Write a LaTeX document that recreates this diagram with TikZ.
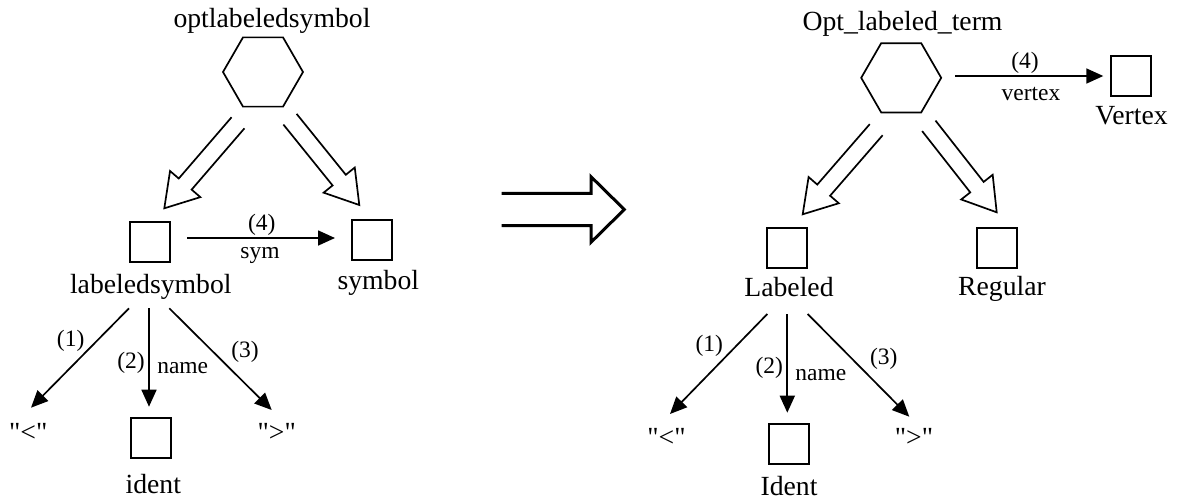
\documentclass[tikz,border=0pt]{standalone}
\usepackage{fontspec}
\setmainfont{Liberation Serif}
\newfontfamily\rawserif{Liberation Serif}
\usetikzlibrary{shapes.geometric,arrows.meta,calc}
\tikzset{
  lw/.style={line width=1.7pt},
  hexa/.style={draw,lw,regular polygon,regular polygon sides=6,minimum size=80pt,inner sep=0pt},
  sqbox/.style={draw,lw,minimum size=40pt,inner sep=0pt},
  bigtxt/.style={font=\fontsize{27.7}{30}\selectfont,inner sep=0pt,anchor=base},
  quotetxt/.style={font=\rawserif\fontsize{27.7}{30}\selectfont,inner sep=0pt,anchor=base},
  smalltxt/.style={font=\fontsize{23.5}{26}\selectfont,inner sep=0pt},
  conn/.style={lw,-{Triangle[length=17pt,width=15pt]}},
  hollow/.style={lw,line join=miter},
  bigarrow/.style={line width=3pt,line join=miter},
}
\newcommand{\hollowarrow}[2]{%
  \coordinate (hN) at ($(#2)!32pt!(#1)$);
  \draw[hollow] ($(#1)!8.5pt!90:(#2)$) -- ($(hN)!8.5pt!90:(#2)$) -- ($(hN)!20pt!90:(#2)$) -- (#2) -- ($(hN)!20pt!-90:(#2)$) -- ($(hN)!8.5pt!-90:(#2)$) -- ($(#1)!8.5pt!-90:(#2)$);
}
\begin{document}
\begin{tikzpicture}[x=1pt,y=-1pt]
\useasboundingbox (0,0) rectangle (1178,499);

% ---------- left tree ----------
\node[bigtxt] (tOpt) at (272,27) {optlabeledsymbol};
\node[hexa] (hexL) at (263,72) {};
\node[sqbox] (bLS) at (149.7,241.7) {};
\node[bigtxt] (tLS) at (150.8,293.3) {labeledsymbol};
\node[sqbox] (bSym) at (371.7,240) {};
\node[bigtxt] (tSym) at (378.3,289.3) {symbol};
\node[sqbox] (bId) at (151.2,438) {};
\node[bigtxt] (tId) at (153.3,493.3) {ident};
\node[quotetxt] (tLt) at (28.3,441.5) {"<"};
\node[quotetxt] (tGt) at (276.7,441.5) {">"};

\coordinate (hL1s) at (238,122.8);  \coordinate (hL1e) at (164.3,208.3);
\coordinate (hL2s) at (290,119.2);  \coordinate (hL2e) at (359.3,205);
\hollowarrow{hL1s}{hL1e}
\hollowarrow{hL2s}{hL2e}

\coordinate (sS) at (187.3,238); \coordinate (sE) at (335,238);
\draw[conn] (sS) -- (sE);
\node[smalltxt] (l4L) at (261.7,225) {(4)};
\node[smalltxt,anchor=base] (lsym) at (260,258) {sym};

\coordinate (a1s) at (129,308.3);   \coordinate (a1e) at (31,407.7);
\coordinate (a2s) at (149,308.3);   \coordinate (a2e) at (149,406.7);
\coordinate (a3s) at (169.3,308.3); \coordinate (a3e) at (271.7,410);
\draw[conn] (a1s) -- (a1e);
\draw[conn] (a2s) -- (a2e);
\draw[conn] (a3s) -- (a3e);
\node[smalltxt] (l1L) at (70.7,340.8) {(1)};
\node[smalltxt] (l2L) at (131,362.5) {(2)};
\node[smalltxt,anchor=base] (lnL) at (182.7,373.3) {name};
\node[smalltxt] (l3L) at (245,352) {(3)};

% ---------- big arrow ----------
\draw[bigarrow] (501.7,193.3) -- (591,193.3) -- (591,176.7) -- (624.3,209.5)
  -- (591,242.3) -- (591,225.7) -- (501.7,225.7);

% ---------- right tree ----------
\node[bigtxt] (tOLT) at (902.5,30) {Opt\_labeled\_term};
\node[hexa] (hexR) at (901.2,77.8) {};
\node[sqbox] (bLab) at (787.2,248) {};
\node[bigtxt] (tLab) at (789,296) {Labeled};
\node[sqbox] (bReg) at (996.7,248) {};
\node[bigtxt] (tReg) at (1002,295) {Regular};
\node[sqbox] (bVer) at (1131.2,76) {};
\node[bigtxt] (tVer) at (1131.5,124) {Vertex};
\node[sqbox] (bIdR) at (789.2,443.7) {};
\node[bigtxt] (tIdR) at (789,495) {Ident};
\node[quotetxt] (tLtR) at (666.5,446.5) {"<"};
\node[quotetxt] (tGtR) at (914,446.5) {">"};

\coordinate (hR1s) at (876.2,129.7); \coordinate (hR1e) at (802.7,214.3);
\coordinate (hR2s) at (928.8,125.8); \coordinate (hR2e) at (996.7,212.3);
\hollowarrow{hR1s}{hR1e}
\hollowarrow{hR2s}{hR2e}

\coordinate (vS) at (955,76); \coordinate (vE) at (1103.3,76);
\draw[conn] (vS) -- (vE);
\node[smalltxt] (l4R) at (1025,62.5) {(4)};
\node[smalltxt,anchor=base] (lver) at (1031,100) {vertex};

\coordinate (b1s) at (767.3,314);   \coordinate (b1e) at (670,414);
\coordinate (b2s) at (787.3,314);   \coordinate (b2e) at (787.3,412.7);
\coordinate (b3s) at (807.7,314);   \coordinate (b3e) at (909.3,416.7);
\draw[conn] (b1s) -- (b1e);
\draw[conn] (b2s) -- (b2e);
\draw[conn] (b3s) -- (b3e);
\node[smalltxt] (l1R) at (709.3,346) {(1)};
\node[smalltxt] (l2R) at (769.3,368) {(2)};
\node[smalltxt,anchor=base] (lnR) at (820.8,380) {name};
\node[smalltxt] (l3R) at (883.7,359) {(3)};
\end{tikzpicture}
\end{document}
